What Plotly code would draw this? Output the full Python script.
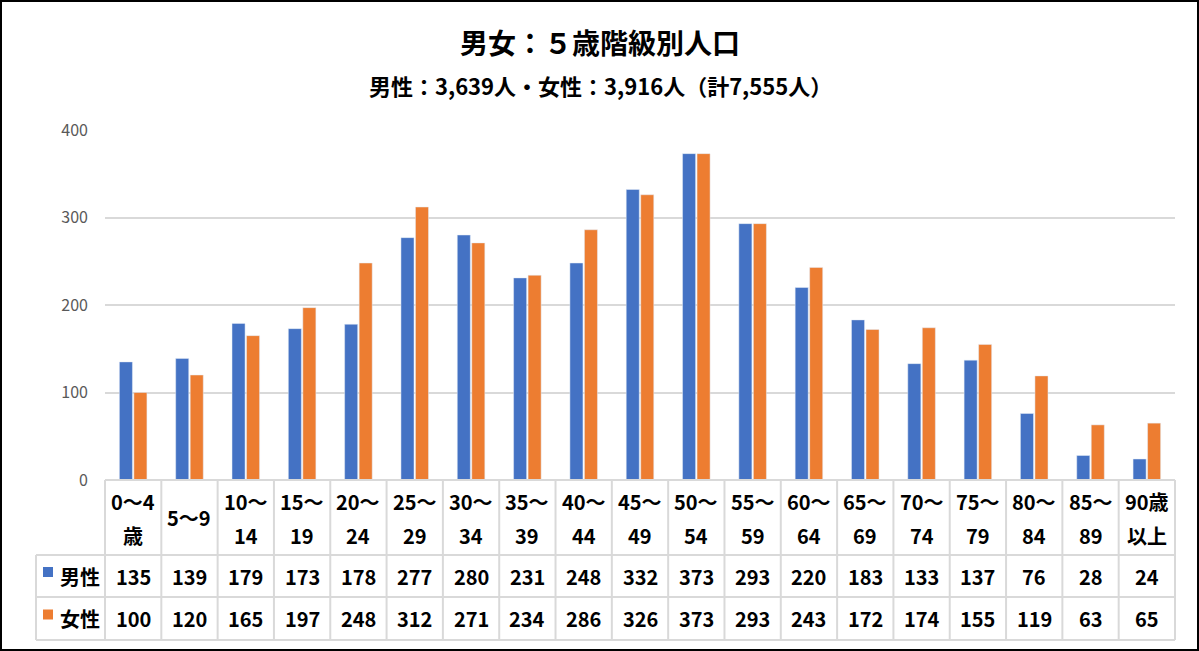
import plotly.graph_objects as go

# ---- data ----
categories = ["0～4\n歳", "5～9", "10～\n14", "15～\n19", "20～\n24", "25～\n29", "30～\n34",
              "35～\n39", "40～\n44", "45～\n49", "50～\n54", "55～\n59", "60～\n64", "65～\n69",
              "70～\n74", "75～\n79", "80～\n84", "85～\n89", "90歳\n以上"]
male = [135, 139, 179, 173, 178, 277, 280, 231, 248, 332, 373, 293, 220, 183, 133, 137, 76, 28, 24]
female = [100, 120, 165, 197, 248, 312, 271, 234, 286, 326, 373, 293, 243, 172, 174, 155, 119, 63, 65]
series_names = ["男性", "女性"]
title_text = "男女：５歳階級別人口"
subtitle_text = "男性：3,639人・女性：3,916人（計7,555人）"
y_ticks = [0, 100, 200, 300, 400]

# ---- layout geometry (pixels) ----
W, H = 1199, 651
L, R, T, B = 105, 1175, 130, 480
PW, PH = R - L, B - T
FONT = "Noto Sans CJK JP"
BLUE, ORANGE = "#4472C4", "#ED7D31"
GRID = "#D9D9D9"
TFS = 20  # table font size

def px(x):
    return (x - L) / PW

def py(y):
    return 1 - (y - T) / PH

n = len(categories)
xidx = list(range(n))

fig = go.Figure()
fig.add_trace(go.Bar(x=xidx, y=male, name=series_names[0], marker_color=BLUE))
fig.add_trace(go.Bar(x=xidx, y=female, name=series_names[1], marker_color=ORANGE))

shapes = []
annotations = []

def line(x0, y0, x1, y1, color=GRID, width=2):
    shapes.append(dict(type="line", xref="paper", yref="paper",
                       x0=px(x0), y0=py(y0), x1=px(x1), y1=py(y1),
                       line=dict(color=color, width=width), layer="above"))

# table rows (pixel y)
row_top, row1, row2, row3 = 480, 555, 597, 640
lab_left = 36
colw = PW / n
line(L, row_top, R, row_top)
for yy in (row1, row2, row3):
    line(lab_left, yy, R, yy)
for k in range(n + 1):
    line(L + k * colw, row_top, L + k * colw, row3)
line(lab_left, row1, lab_left, row3)

# header labels
for i, c in enumerate(categories):
    cx = px(L + (i + 0.5) * colw)
    parts = c.split("\n")
    if len(parts) == 1:
        ys = [(row_top + row1) / 2]
    else:
        ys = [501, 535]
    for t, yy in zip(parts, ys):
        annotations.append(dict(text=f"<b>{t}</b>", x=cx, y=py(yy), xref="paper", yref="paper",
                                showarrow=False, xanchor="center", yanchor="middle",
                                font=dict(family=FONT, size=TFS, color="#000000")))

# value rows
for vals, yy in ((male, (row1 + row2) / 2), (female, (row2 + row3) / 2)):
    for i, v in enumerate(vals):
        annotations.append(dict(text=f"<b>{v}</b>", x=px(L + (i + 0.5) * colw), y=py(yy),
                                xref="paper", yref="paper", showarrow=False,
                                xanchor="center", yanchor="middle",
                                font=dict(family=FONT, size=TFS, color="#000000")))

# legend keys in the table
for name, color, yy in ((series_names[0], BLUE, (row1 + row2) / 2),
                        (series_names[1], ORANGE, (row2 + row3) / 2)):
    shapes.append(dict(type="rect", xref="paper", yref="paper",
                       x0=px(43), x1=px(53), y0=py(yy - 9), y1=py(yy + 1),
                       fillcolor=color, line=dict(width=0), layer="above"))
    annotations.append(dict(text=f"<b>{name}</b>", x=px(58), y=py(yy), xref="paper", yref="paper",
                            showarrow=False, xanchor="left", yanchor="middle",
                            font=dict(family=FONT, size=TFS, color="#000000")))

# titles
annotations.append(dict(text=f"<b>{title_text}</b>", x=px(600), y=py(42), xref="paper", yref="paper",
                        showarrow=False, xanchor="center", yanchor="middle",
                        font=dict(family=FONT, size=28, color="#000000")))
annotations.append(dict(text=f"<b>{subtitle_text}</b>", x=px(600), y=py(85), xref="paper", yref="paper",
                        showarrow=False, xanchor="center", yanchor="middle",
                        font=dict(family=FONT, size=22, color="#000000")))

# outer border
shapes.append(dict(type="rect", xref="paper", yref="paper",
                   x0=px(1), x1=px(W - 1), y0=py(1), y1=py(H - 1),
                   line=dict(color="#000000", width=2), layer="above"))

fig.update_layout(
    width=W, height=H,
    margin=dict(l=L, r=W - R, t=T, b=H - B, pad=0),
    paper_bgcolor="white", plot_bgcolor="white",
    showlegend=False,
    barmode="group", bargap=0.485, bargroupgap=0.1,
    shapes=shapes, annotations=annotations,
    xaxis=dict(range=[-0.5, n - 0.5], showticklabels=False, showgrid=False,
               zeroline=False, showline=False, ticks=""),
    yaxis=dict(range=[0, 400], tickvals=y_ticks, showgrid=True, gridcolor=GRID, gridwidth=1.5,
               zeroline=False, showline=False, ticks="", ticklabelstandoff=16,
               tickfont=dict(family=FONT, size=16, color="#595959")),
)

fig.write_html("out.html")
